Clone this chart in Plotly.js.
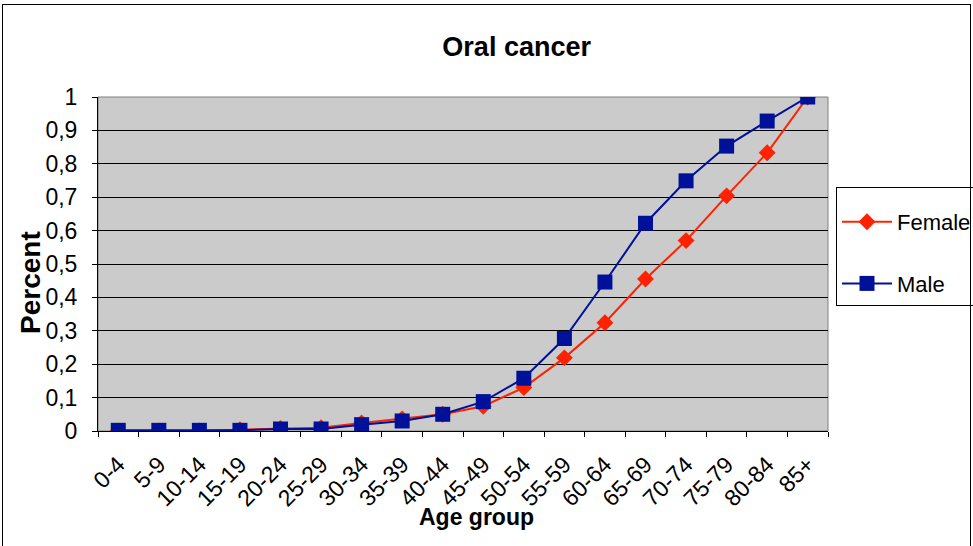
<!DOCTYPE html>
<html><head><meta charset="utf-8">
<script src="https://cdn.plot.ly/plotly-3.0.1.min.js"></script>
<style>
html,body{margin:0;padding:0;background:#fff;}
#wrap{position:relative;width:973px;height:546px;}
#chart{position:absolute;left:0;top:0;width:973px;height:546px;}
#frame{position:absolute;left:2px;top:4px;width:967px;height:545px;border:1px solid #000;pointer-events:none;}
</style></head>
<body>
<div id="wrap"><div id="chart"></div><div id="frame"></div></div>
<script>
const ageGroups = ["0-4","5-9","10-14","15-19","20-24","25-29","30-34","35-39","40-44","45-49","50-54","55-59","60-64","65-69","70-74","75-79","80-84","85+"];
const female = [0,0,0,0.004,0.008,0.01,0.024,0.036,0.05,0.074,0.13,0.219,0.324,0.455,0.57,0.704,0.833,1.0];
const male   = [0.002,0.002,0.002,0.002,0.006,0.006,0.019,0.03,0.05,0.088,0.158,0.277,0.446,0.622,0.749,0.853,0.928,1.0];
const yTicks = [0,0.1,0.2,0.3,0.4,0.5,0.6,0.7,0.8,0.9,1];
const yTickText = ["0","0,1","0,2","0,3","0,4","0,5","0,6","0,7","0,8","0,9","1"];

const FONT = "Liberation Sans, Arial, sans-serif";
const traces = [
  {x: ageGroups, y: female, name: "Female", type: "scatter", mode: "lines+markers",
   legendgroup: "f",
   line: {color: "#ff2200", width: 2},
   marker: {symbol: "diamond", size: 13, color: "#ff2200"}},
  {x: ageGroups, y: male, name: "Male", type: "scatter", mode: "lines+markers",
   legendgroup: "m",
   line: {color: "#001199", width: 2},
   marker: {symbol: "square", size: 15, color: "#001199"}}
];
const layout = {
  width: 973, height: 546,
  margin: {l: 98, r: 145, t: 97, b: 115},
  paper_bgcolor: "#ffffff",
  plot_bgcolor: "#cbcbcb",
  font: {family: FONT, color: "#000"},
  title: {text: "<b>Oral cancer</b>", font: {size: 27, family: FONT, color: "#000"},
          x: 0.531, xref: "container", xanchor: "center", y: 1 - 47/546, yref: "container", yanchor: "middle"},
  xaxis: {type: "category", tickson: "boundaries", ticks: "outside", ticklen: 5, tickcolor: "#000",
          showline: true, linecolor: "#000", linewidth: 1, showgrid: false, zeroline: false,
          tickangle: -45, tickfont: {size: 23, family: FONT}, ticklabelstandoff: 10,
          range: [-0.5, 17.5]},
  yaxis: {range: [0, 1], tickvals: yTicks, ticktext: yTickText, ticks: "outside", ticklen: 5, tickcolor: "#000",
          showline: true, linecolor: "#000", linewidth: 1, showgrid: true, gridcolor: "#000", gridwidth: 1,
          zeroline: false, tickfont: {size: 23, family: FONT}, ticklabelstandoff: 10},
  annotations: [
    {text: "<b>Percent</b>", xref: "paper", x: (30 - 98) / 730, yref: "paper", y: (431 - 283) / 334,
     xanchor: "center", yanchor: "middle", textangle: -90, showarrow: false,
     font: {size: 28, family: FONT, color: "#000"}},
    {text: "<b>Age group</b>", xref: "paper", x: (476 - 98) / 730, yref: "paper", y: (431 - 517) / 334,
     xanchor: "center", yanchor: "middle", showarrow: false,
     font: {size: 23, family: FONT, color: "#000"}}
  ],
  showlegend: true,
  legend: {x: 836/973, xref: "container", y: 1 - 187/546, yref: "container", xanchor: "left", yanchor: "top",
           bgcolor: "#fff", bordercolor: "#000", borderwidth: 1,
           title: {text: " ", font: {size: 10}},
           font: {size: 22, family: FONT}, traceorder: "grouped", tracegroupgap: 30, itemwidth: 50,
           entrywidth: 100},
  shapes: [
    {type: "rect", xref: "paper", yref: "paper", x0: 0, x1: 1, y0: 0, y1: 1,
     line: {color: "#808080", width: 1}, layer: "below"}
  ]
};
Plotly.newPlot("chart", traces, layout, {displayModeBar: false, staticPlot: true});
</script>
</body></html>
